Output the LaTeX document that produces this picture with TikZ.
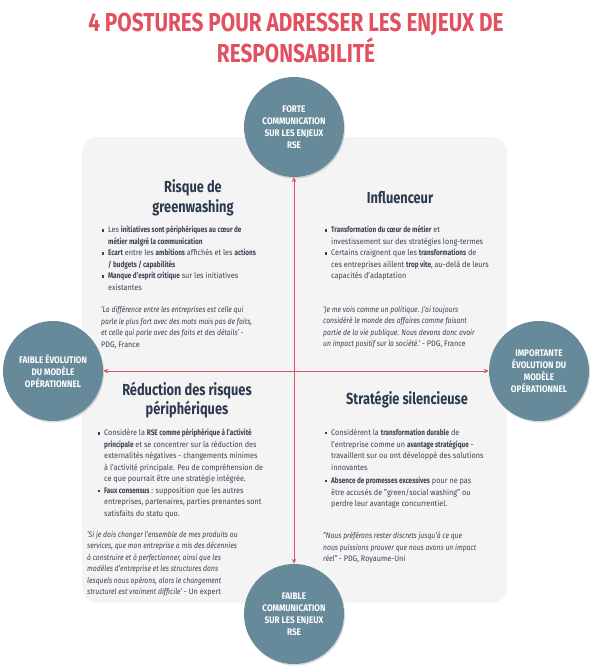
\documentclass[tikz,border=0pt]{standalone}
\usepackage{fontspec}
\setmainfont{Fira Sans}[FakeStretch=0.91,
  BoldFeatures={FakeStretch=0.8}, ItalicFeatures={FakeStretch=0.85},
  BoldItalicFeatures={FakeStretch=0.8}]
\newfontfamily\narrowfont{Fira Sans}[FakeStretch=0.8]
\newfontfamily\circfont{Fira Sans}[FakeStretch=0.86]
\usetikzlibrary{arrows.meta,shadows}
\definecolor{postred}{HTML}{E2515F}
\definecolor{circblue}{HTML}{678A9B}
\definecolor{boxgray}{HTML}{F4F4F4}
\definecolor{headnavy}{HTML}{2C3A4E}
\definecolor{bodygray}{HTML}{3A4353}
\newcommand{\sqb}{\llap{\raisebox{0.3ex}{\rule{2.2pt}{2.2pt}}\hspace{4pt}}}

\begin{document}
\begin{tikzpicture}[
  x=1pt, y=-1pt,
  >={Stealth[length=5pt,width=4.5pt]},
  every node/.style={inner sep=0pt},
  posture/.style={circle, fill=circblue, minimum size=100pt, align=center, text=white,
    font={\circfont\bfseries\fontsize{9.5}{12}\selectfont},
    drop shadow={opacity=0.3, shadow xshift=1pt, shadow yshift=-1.5pt}},
  heading/.style={align=center, text=headnavy, font={\narrowfont\bfseries\fontsize{16}{19.5}\selectfont}},
  body/.style={align=left, anchor=north west, text=bodygray, font={\fontsize{8}{11.5}\selectfont}},
  quote/.style={body, font={\itshape\fontsize{8}{11.5}\selectfont}}
]
  \useasboundingbox (0,0) rectangle (592,666);
  \fill[boxgray, rounded corners=16pt] (82,137) rectangle (507,603);

  \node[align=center, text=postred, font={\narrowfont\bfseries\fontsize{26}{28}\selectfont}] (title) at (296,38)
    {4 POSTURES POUR ADRESSER LES ENJEUX DE\\RESPONSABILITÉ};

  \node[posture] (forte) at (294,127) {FORTE\\COMMUNICATION\\SUR LES ENJEUX\\RSE};
  \node[posture] (faiblecom) at (294,614) {FAIBLE\\COMMUNICATION\\SUR LES ENJEUX\\RSE};
  \node[posture] (faibleevo) at (53,371) {FAIBLE ÉVOLUTION\\DU MODÈLE\\OPÉRATIONNEL};
  \node[posture] (impevo) at (539,371) {IMPORTANTE\\ÉVOLUTION DU\\MODÈLE\\OPÉRATIONNEL};

  % quadrant headings
  \node[heading] (greenwash) at (193,198) {Risque de\\greenwashing};
  \node[heading] (influence) at (400,198) {Influenceur};
  \node[heading] (reduction) at (187,400) {Réduction des risques\\périphériques};
  \node[heading] (silence) at (407,400) {Stratégie silencieuse};

  \node[body] (greenwashtxt) at (108,226) {%
    \sqb Les \textbf{initiatives sont périphériques au cœur de}\\
    \textbf{métier malgré la communication}\\
    \sqb\textbf{Ecart} entre les \textbf{ambitions} affichés et les \textbf{actions}\\
    \textbf{/ budgets / capabilités}\\
    \sqb\textbf{Manque d'esprit critique} sur les initiatives\\
    existantes};
  \node[quote] (greenwashq) at (101,306) {%
    'La différence entre les entreprises est celle qui\\
    parle le plus fort avec des mots mais pas de faits,\\
    et celle qui parle avec des faits et des détails' -\\
    \upshape PDG, France};

  \node[body] (influencetxt) at (331,226) {%
    \sqb\textbf{Transformation du cœur de métier} et\\
    investissement sur des stratégies long-termes\\
    \sqb Certains craignent que les \textbf{transformations} de\\
    ces entreprises aillent \textbf{trop vite}, au-delà de leurs\\
    capacités d'adaptation};
  \node[quote] (influenceq) at (323,306) {%
    'Je me vois comme un politique. J'ai toujours\\
    considéré le monde des affaires comme faisant\\
    partie de la vie publique. Nous devons donc avoir\\
    un impact positif sur la société.' {\upshape - PDG, France}};

  \node[body] (reductiontxt) at (104,429) {%
    \sqb Considère la \textbf{RSE comme périphérique à l'activité}\\
    \textbf{principale} et se concentrer sur la réduction des\\
    externalités négatives - changements minimes\\
    à l'activité principale. Peu de compréhension de\\
    ce que pourrait être une stratégie intégrée.\\
    \sqb\textbf{Faux consensus} : supposition que les autres\\
    entreprises, partenaires, parties prenantes sont\\
    satisfaits du statu quo.};
  \node[quote] (reductionq) at (87,531) {%
    'Si je dois changer l'ensemble de mes produits ou\\
    services, que mon entreprise a mis des décennies\\
    à construire et à perfectionner, ainsi que les\\
    modèles d'entreprise et les structures dans\\
    lesquels nous opérons, alors le changement\\
    structurel est vraiment difficile' {\upshape - Un expert}};

  \node[body] (silencetxt) at (331,429) {%
    \sqb Considèrent la \textbf{transformation durable} de\\
    l'entreprise comme un \textbf{avantage stratégique} -\\
    travaillent sur ou ont développé des solutions\\
    innovantes\\[2pt]
    \sqb\textbf{Absence de promesses excessives} pour ne pas\\
    être accusés de "green/social washing" ou\\
    perdre leur avantage concurrentiel.};
  \node[quote] (silenceq) at (323,532) {%
    "Nous préférons rester discrets jusqu'à ce que\\
    nous puissions prouver que nous avons un impact\\
    réel" {\upshape - PDG, Royaume-Uni}};

  % axes
  \draw[<->, postred, line width=1pt] (forte) -- (faiblecom);
  \draw[<->, postred, line width=1pt] (faibleevo) -- (impevo);
\end{tikzpicture}
\end{document}
